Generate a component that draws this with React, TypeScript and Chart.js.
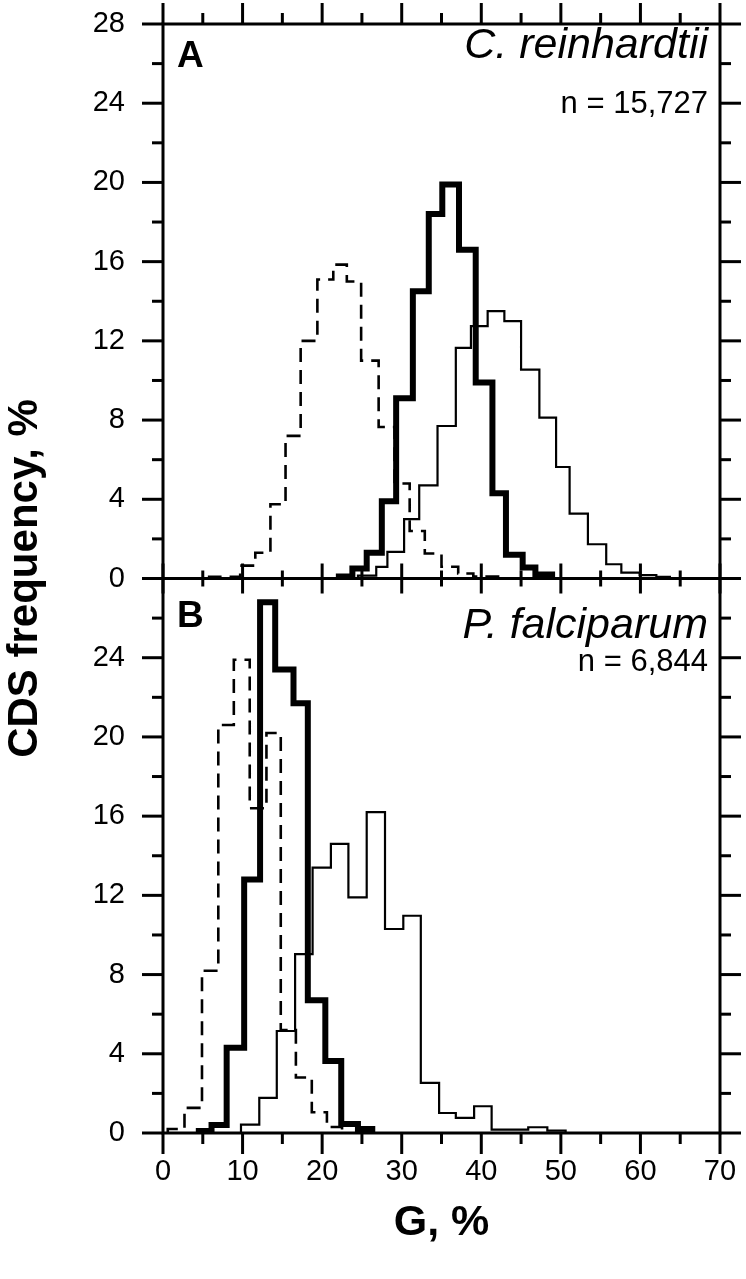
import React, { useEffect, useRef } from "react";
import { Chart, registerables } from "chart.js";

Chart.register(...registerables);

// ---------- data ----------
const xMin = 0;
const xMax = 70;
const yMax = 28;

const panelLetters = ["A", "B"];
const speciesNames = ["C. reinhardtii", "P. falciparum"];
const sampleSizes = ["n = 15,727", "n = 6,844"];
const yAxisTitle = "CDS frequency, %";
const xAxisTitle = "G, %";

// Panel A: C. reinhardtii (bin edges in G %, frequencies in %)
const crDashedEdges = [5.8, 9.7, 11.6, 13.5, 15.4, 17.3, 19.4, 21.4, 23.1, 24.9, 27.1, 29.1, 31.0, 32.9, 35.0, 37.1, 39.0, 43.0];
const crDashedFreq = [0.08, 0.65, 1.3, 3.75, 7.2, 12.0, 15.1, 15.85, 15.0, 11.0, 7.65, 4.8, 2.4, 1.26, 0.59, 0.25, 0.1];
const crBoldEdges = [22.1, 23.8, 25.6, 27.5, 29.3, 31.4, 33.4, 35.1, 37.2, 39.3, 41.4, 43.1, 45.2, 46.8, 48.9];
const crBoldFreq = [0.1, 0.5, 1.3, 3.9, 9.1, 14.5, 18.4, 19.9, 16.6, 9.9, 4.3, 1.2, 0.55, 0.2];
const crThinEdges = [24.5, 26.8, 28.2, 30.3, 32.2, 34.5, 36.8, 38.7, 40.8, 42.9, 45.0, 47.3, 49.4, 51.1, 53.4, 55.7, 57.6, 59.9, 62.0, 63.7];
const crThinFreq = [0.15, 0.59, 1.34, 3.0, 4.7, 7.7, 11.65, 12.74, 13.5, 13.0, 10.55, 8.12, 5.63, 3.28, 1.73, 0.72, 0.3, 0.17, 0.08];

// Panel B: P. falciparum
const pfDashedEdges = [0.6, 2.7, 4.9, 6.95, 8.9, 10.9, 13.0, 14.8, 16.7, 18.7, 20.6, 22.5];
const pfDashedFreq = [0.2, 1.27, 8.19, 20.6, 23.9, 16.4, 20.2, 5.2, 2.8, 1.05, 0.3];
const pfBoldEdges = [4.5, 6.1, 8.0, 10.2, 12.2, 14.1, 16.4, 18.2, 20.4, 22.4, 24.5, 26.3];
const pfBoldFreq = [0.1, 0.4, 4.3, 12.8, 26.8, 23.4, 21.7, 6.7, 3.64, 0.45, 0.2];
const pfThinEdges = [9.8, 12.1, 14.3, 16.6, 18.8, 21.1, 23.3, 25.6, 27.9, 30.2, 32.4, 34.7, 36.8, 39.1, 41.3, 43.6, 45.9, 48.3, 50.6];
const pfThinFreq = [0.42, 1.77, 5.15, 9.03, 13.4, 14.6, 11.9, 16.2, 10.3, 10.97, 2.53, 1.01, 0.76, 1.35, 0.17, 0.17, 0.29, 0.12];

// ---------- helpers ----------
const FONT = '"Liberation Sans", Arial, Helvetica, sans-serif';

function histPoints(edges: number[], freq: number[]) {
  const pts = [{ x: edges[0], y: 0 }];
  for (let i = 0; i < freq.length; i++) pts.push({ x: edges[i], y: freq[i] });
  pts.push({ x: edges[edges.length - 1], y: 0 });
  return pts;
}

type Style = "dashed" | "bold" | "thin";
function makeDataset(edges: number[], freq: number[], style: Style, axis: string) {
  return {
    data: histPoints(edges, freq),
    yAxisID: axis,
    borderColor: "#000",
    backgroundColor: "#000",
    borderWidth: style === "bold" ? 6 : style === "dashed" ? 2.6 : 2.2,
    borderDash: style === "dashed" ? [14, 8] : [],
    borderJoinStyle: "miter" as const,
    borderCapStyle: "butt" as const,
    stepped: "before" as const,
    pointRadius: 0,
    fill: false,
    tension: 0,
  };
}

const framePlugin = {
  id: "frameTicks",
  afterDraw(chart: any) {
    const { ctx, chartArea } = chart;
    const xs = chart.scales.x;
    const yA = chart.scales.yA;
    const yB = chart.scales.yB;
    const L = chartArea.left;
    const R = chartArea.right;
    const T = Math.min(yA.top, yB.top);
    const Bt = Math.max(yA.bottom, yB.bottom);
    const M = yA.top < yB.top ? yA.bottom : yB.bottom;
    const line = (x1: number, y1: number, x2: number, y2: number) => {
      ctx.beginPath();
      ctx.moveTo(x1, y1);
      ctx.lineTo(x2, y2);
      ctx.stroke();
    };
    ctx.save();
    ctx.strokeStyle = "#000";
    ctx.lineWidth = 3;
    ctx.lineCap = "butt";
    ctx.strokeRect(L, T, R - L, Bt - T);
    line(L, M, R, M);
    for (let v = xMin; v <= xMax; v += 5) {
      const px = xs.getPixelForValue(v);
      const major = v % 10 === 0;
      line(px, T, px, T - (major ? 21 : 11));
      line(px, M - (major ? 15 : 8), px, M + (major ? 15 : 8));
      line(px, Bt, px, Bt + (major ? 21 : 11));
    }
    [yA, yB].forEach((s: any) => {
      for (let v = 0; v <= yMax; v += 2) {
        const py = s.getPixelForValue(v);
        const len = v % 4 === 0 ? 21 : 11;
        line(L - len, py, L, py);
        line(R, py, R + len, py);
      }
    });

    // annotations
    ctx.fillStyle = "#000";
    const letterOff = [43, 48];
    const speciesOff = [34, 59];
    const nOff = [89, 92];
    [yA, yB].forEach((s: any, i: number) => {
      ctx.textAlign = "left";
      ctx.textBaseline = "alphabetic";
      ctx.font = `bold 37px ${FONT}`;
      ctx.fillText(panelLetters[i], L + 14, s.top + letterOff[i]);
      ctx.textAlign = "right";
      ctx.font = `italic 43px ${FONT}`;
      ctx.fillText(speciesNames[i], R - 12, s.top + speciesOff[i]);
      ctx.font = `31px ${FONT}`;
      ctx.fillText(sampleSizes[i], R - 12, s.top + nOff[i]);
    });

    ctx.save();
    ctx.translate(25, (T + Bt) / 2);
    ctx.rotate(-Math.PI / 2);
    ctx.textAlign = "center";
    ctx.textBaseline = "middle";
    ctx.font = `bold 42px ${FONT}`;
    ctx.fillText(yAxisTitle, 0, 0);
    ctx.restore();

    ctx.textAlign = "center";
    ctx.textBaseline = "middle";
    ctx.font = `bold 43px ${FONT}`;
    ctx.fillText(xAxisTitle, (L + R) / 2, Bt + 90);
    ctx.restore();
  },
};

export default function App() {
  const canvasRef = useRef<HTMLCanvasElement | null>(null);

  useEffect(() => {
    if (!canvasRef.current) return;
    const tickFont = { family: FONT, size: 29 };
    const yScale = (hideTop: boolean) => ({
      type: "linear" as const,
      min: 0,
      max: yMax,
      stack: "panels",
      stackWeight: 1,
      position: "left" as const,
      grid: { display: false, drawTicks: false, tickLength: 0 },
      border: { display: false },
      ticks: {
        stepSize: 4,
        color: "#000",
        font: tickFont,
        padding: 38,
        callback: (v: any) => (hideTop && v === yMax ? "" : String(v)),
      },
      afterFit: (s: any) => {
        s.width = 163;
        s.paddingTop = 0;
        s.paddingBottom = 0;
      },
    });

    const chart = new Chart(canvasRef.current, {
      type: "line",
      data: {
        datasets: [
          makeDataset(crDashedEdges, crDashedFreq, "dashed", "yA"),
          makeDataset(crBoldEdges, crBoldFreq, "bold", "yA"),
          makeDataset(crThinEdges, crThinFreq, "thin", "yA"),
          makeDataset(pfDashedEdges, pfDashedFreq, "dashed", "yB"),
          makeDataset(pfBoldEdges, pfBoldFreq, "bold", "yB"),
          makeDataset(pfThinEdges, pfThinFreq, "thin", "yB"),
        ] as any,
      },
      options: {
        animation: false,
        responsive: true,
        maintainAspectRatio: false,
        layout: { padding: { top: 24, right: 26, left: 0, bottom: 0 } },
        plugins: { legend: { display: false }, tooltip: { enabled: false } },
        scales: {
          x: {
            type: "linear",
            min: xMin,
            max: xMax,
            position: "bottom",
            grid: { display: false, drawTicks: false, tickLength: 0 },
            border: { display: false },
            ticks: { stepSize: 10, color: "#000", font: tickFont, padding: 22, maxRotation: 0 },
            afterFit: (s: any) => {
              s.height = 146;
              s.paddingLeft = 0;
              s.paddingRight = 0;
            },
          },
          yB: yScale(true),
          yA: yScale(false),
        } as any,
      },
      plugins: [framePlugin],
    });
    return () => chart.destroy();
  }, []);

  return (
    <div style={{ position: "absolute", left: 0, top: 0, width: 746, height: 1279, background: "#fff" }}>
      <canvas ref={canvasRef} />
    </div>
  );
}
